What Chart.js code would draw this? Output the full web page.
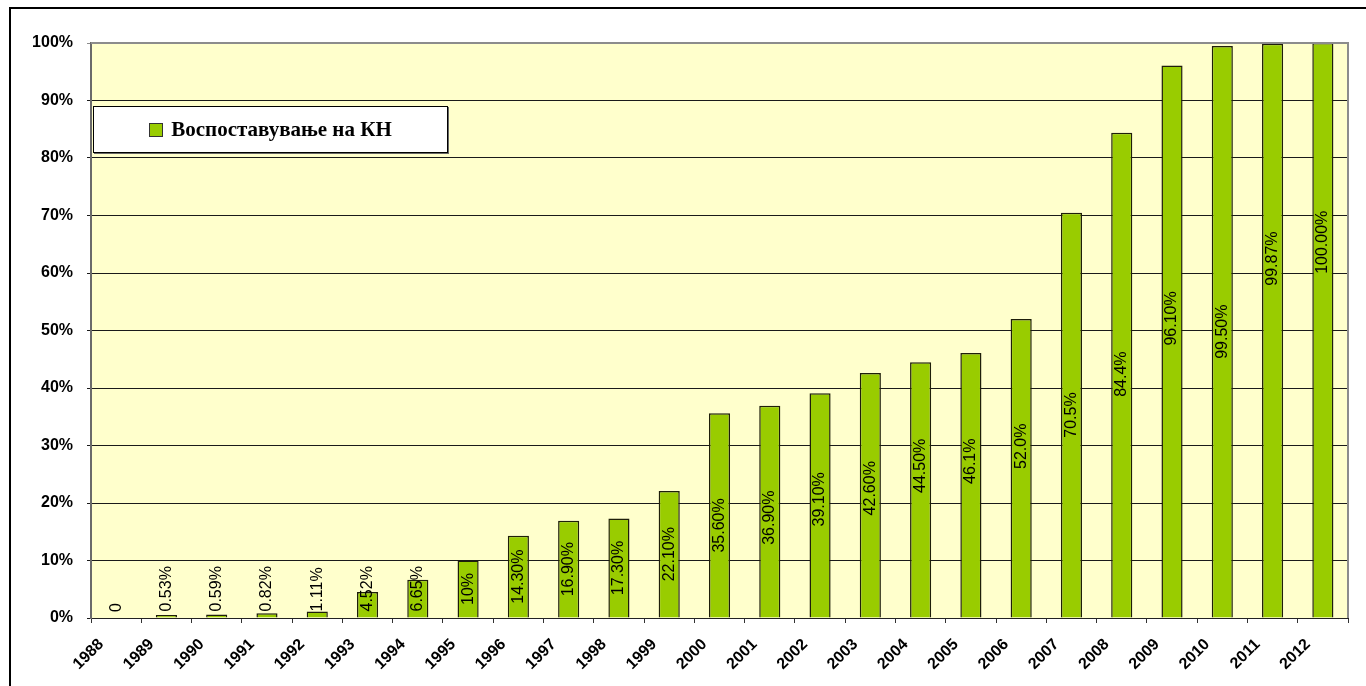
<!DOCTYPE html>
<html>
<head>
<meta charset="utf-8">
<script src="https://cdn.jsdelivr.net/npm/chart.js@4.4.1/dist/chart.umd.min.js"></script>
<style>
  html, body { margin: 0; padding: 0; background: #fff; }
  #wrap { position: relative; width: 1366px; height: 686px; overflow: hidden; }
  #frame { position: absolute; left: 9px; top: 7px; width: 1400px; height: 720px;
           border-left: 2px solid #000; border-top: 2px solid #000; pointer-events: none; }
  #legend { position: absolute; left: 93px; top: 106px; width: 353px; height: 45px;
            background: #fff; border: 1px solid #000; box-shadow: 1px 1px 0 #666;
            display: flex; align-items: center; justify-content: center;
            font-family: "Liberation Serif", "Times New Roman", serif; font-weight: bold;
            font-size: 21px; color: #000; }
  #legend .sw { display: inline-block; width: 12px; height: 12px; background: #99CC00;
                border: 1px solid #333; margin-right: 8px; }
</style>
</head>
<body>
<div id="wrap">
  <canvas id="c" width="1366" height="686"></canvas>
  <div id="frame"></div>
  <div id="legend"><span class="sw"></span><span id="legText"></span></div>
</div>
<script>
const years = ['1988','1989','1990','1991','1992','1993','1994','1995','1996','1997','1998','1999',
               '2000','2001','2002','2003','2004','2005','2006','2007','2008','2009','2010','2011','2012'];
const values = [0, 0.53, 0.59, 0.82, 1.11, 4.52, 6.65, 10, 14.3, 16.9, 17.3, 22.1,
                35.6, 36.9, 39.1, 42.6, 44.5, 46.1, 52.0, 70.5, 84.4, 96.1, 99.5, 99.87, 100];
const valueLabels = ['0','0.53%','0.59%','0.82%','1.11%','4.52%','6.65%','10%','14.30%','16.90%','17.30%','22.10%',
                     '35.60%','36.90%','39.10%','42.60%','44.50%','46.1%','52.0%','70.5%','84.4%','96.10%','99.50%','99.87%','100.00%'];
const seriesName = 'Воспоставување на КН';
const yTicks = [0, 10, 20, 30, 40, 50, 60, 70, 80, 90, 100];

document.getElementById('legText').textContent = seriesName;

// manual label nudges (pixels, + = down) as placed in the original chart
const labelNudge = [0,0,0,0,0,0,0,0,0,0,0,0, 10,6,-6,-7,-24,-24,-22,0,-1,-23,0,-72,-88];

const plotBg = {
  id: 'plotBg',
  beforeDraw(chart) {
    const {ctx, chartArea: a} = chart;
    ctx.save();
    ctx.fillStyle = '#FFFFCC';
    ctx.fillRect(a.left, a.top, a.right - a.left, a.bottom - a.top);
    ctx.restore();
  },
  afterDraw(chart) {
    const {ctx, chartArea: a} = chart;
    ctx.save();
    ctx.strokeStyle = '#8c8c8c';
    ctx.lineWidth = 2;
    ctx.beginPath();
    ctx.moveTo(a.left, a.top);
    ctx.lineTo(a.right, a.top);
    ctx.lineTo(a.right, a.bottom);
    ctx.stroke();
    ctx.restore();
  }
};

const barLabels = {
  id: 'barLabels',
  afterDatasetsDraw(chart) {
    const {ctx} = chart;
    const meta = chart.getDatasetMeta(0);
    ctx.save();
    ctx.font = '16px "Liberation Sans", Arial, sans-serif';
    ctx.fillStyle = '#000';
    ctx.textBaseline = 'middle';
    ctx.textAlign = 'left';
    meta.data.forEach((bar, i) => {
      const txt = valueLabels[i];
      const w = ctx.measureText(txt).width;
      const center = (bar.y + bar.base) / 2;
      let bottom = Math.min(center + w / 2, bar.base - 6);
      bottom += labelNudge[i];
      ctx.save();
      ctx.translate(bar.x, bottom);
      ctx.rotate(-Math.PI / 2);
      ctx.fillText(txt, 0, 0);
      ctx.restore();
    });
    ctx.restore();
  }
};

new Chart(document.getElementById('c'), {
  type: 'bar',
  data: {
    labels: years,
    datasets: [{
      label: seriesName,
      data: values,
      backgroundColor: '#99CC00',
      borderColor: '#1e1e0a',
      borderWidth: 1.5,
      barPercentage: 0.42,
      categoryPercentage: 1.0
    }]
  },
  options: {
    responsive: false,
    animation: false,
    layout: { padding: { left: 0, top: 43, right: 18, bottom: 0 } },
    plugins: { legend: { display: false }, tooltip: { enabled: false } },
    scales: {
      x: {
        offset: true,
        grid: { offset: true, drawOnChartArea: false, drawTicks: true, tickLength: 5, color: '#333' },
        border: { display: true, color: '#222', width: 1 },
        ticks: {
          autoSkip: false, minRotation: 45, maxRotation: 45,
          labelOffset: -15, padding: 12,
          color: '#000',
          font: { family: '"Liberation Sans", Arial, sans-serif', size: 16, weight: 'bold' }
        },
        afterFit(s) { s.height = 68; }
      },
      y: {
        min: 0, max: 100,
        afterBuildTicks(s) { s.ticks = yTicks.map(v => ({ value: v })); },
        grid: {
          color: (c) => c.tick && c.tick.value === 100 ? '#8c8c8c' : '#1a1a1a',
          lineWidth: 1, tickLength: 4, drawTicks: true
        },
        border: { display: true, color: '#6a6a6a', width: 2 },
        ticks: {
          padding: 14, color: '#000',
          callback: (v) => v + '%',
          font: { family: '"Liberation Sans", Arial, sans-serif', size: 16, weight: 'bold' }
        },
        afterFit(s) { s.width = 91; }
      }
    }
  },
  plugins: [plotBg, barLabels]
});
</script>
</body>
</html>
